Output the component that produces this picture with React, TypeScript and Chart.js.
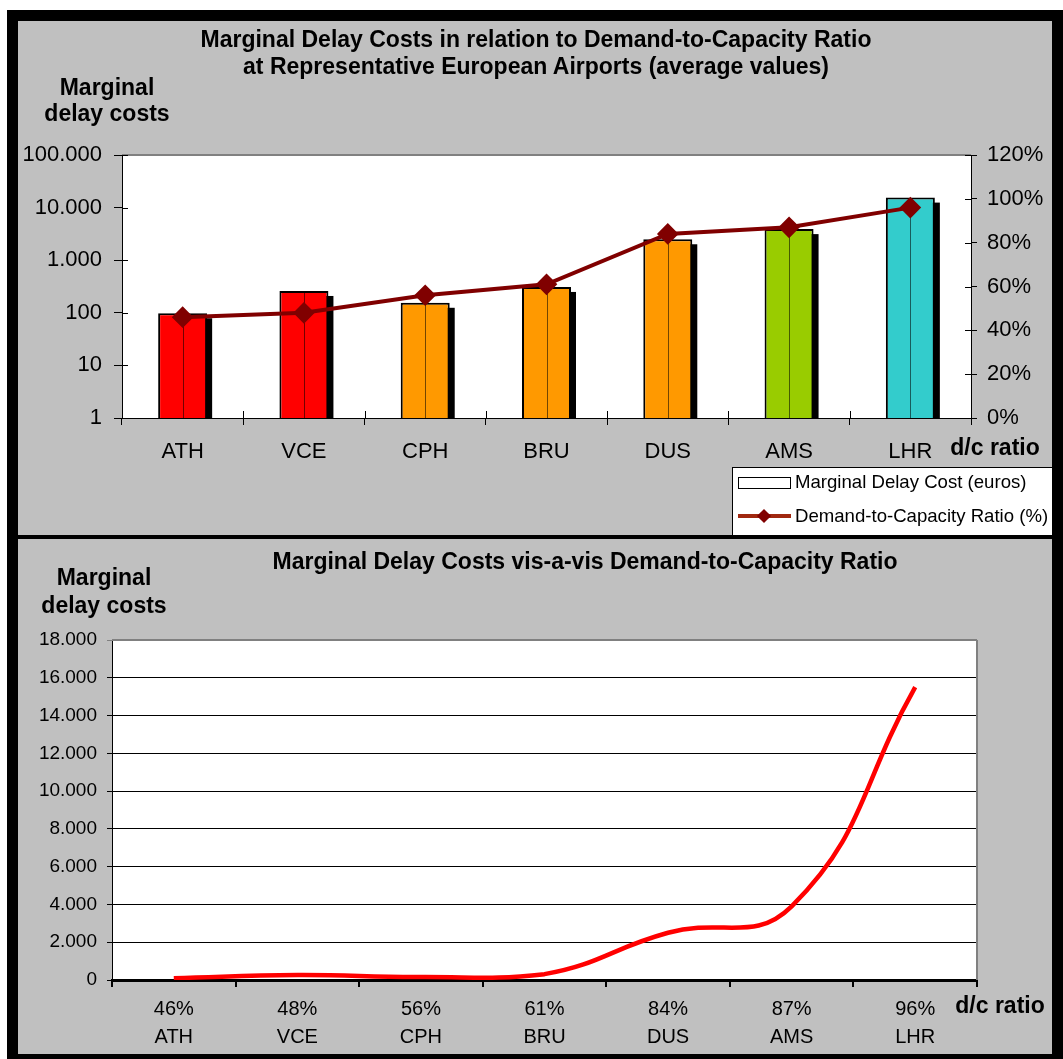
import React, { useEffect, useRef } from "react";
import { Chart, registerables } from "chart.js";
Chart.register(...registerables);

// ---------- data ----------
const airports = ["ATH", "VCE", "CPH", "BRU", "DUS", "AMS", "LHR"];
const delayCosts = [98, 260, 155, 310, 2500, 3900, 15500];
const dcRatios = [46, 48, 56, 61, 84, 87, 96];
const barColors = ["#FF0000", "#FF0000", "#FF9900", "#FF9900", "#FF9900", "#99CC00", "#33CCCC"];
const logTickValues = [1, 10, 100, 1000, 10000, 100000];
const percentTickValues = [0, 20, 40, 60, 80, 100, 120];
const linearTickValues = [0, 2000, 4000, 6000, 8000, 10000, 12000, 14000, 16000, 18000];

const FONT = "'Liberation Sans', Arial, Helvetica, sans-serif";
const fmtThousands = (v: number) => String(v).replace(/\B(?=(\d{3})+(?!\d))/g, ".");

// ---------- plugins ----------
const plotFrame = {
  id: "plotFrame",
  beforeDraw(chart: any) {
    const { ctx, chartArea: a } = chart;
    ctx.save();
    ctx.fillStyle = "#FFFFFF";
    ctx.fillRect(a.left, a.top, a.right - a.left, a.bottom - a.top);
    ctx.restore();
  },
  beforeDatasetsDraw(chart: any, _args: any, opts: any) {
    const { ctx, chartArea: a } = chart;
    ctx.save();
    ctx.strokeStyle = "#808080";
    ctx.lineWidth = 2;
    ctx.beginPath();
    ctx.moveTo(a.left, a.top);
    ctx.lineTo(a.right, a.top);
    if (opts && opts.right) {
      ctx.moveTo(a.right, a.top);
      ctx.lineTo(a.right, a.bottom);
    }
    ctx.stroke();
    ctx.restore();
  },
};

const barDecor = {
  id: "barDecor",
  beforeDatasetDraw(chart: any, args: any) {
    const meta = args.meta;
    if (meta.type !== "bar") return;
    const { ctx, chartArea: a } = chart;
    ctx.save();
    ctx.beginPath();
    ctx.rect(a.left, a.top, a.right - a.left, a.bottom - a.top);
    ctx.clip();
    ctx.fillStyle = "#000000";
    meta.data.forEach((el: any) => {
      const p = el.getProps(["x", "y", "base", "width"], true);
      ctx.fillRect(p.x - p.width / 2 + 5, p.y + 5, p.width, p.base - p.y);
    });
    ctx.restore();
  },
  afterDatasetDraw(chart: any, args: any) {
    const meta = args.meta;
    if (meta.type !== "bar") return;
    const { ctx } = chart;
    ctx.save();
    ctx.strokeStyle = "rgba(0,0,0,0.55)";
    ctx.lineWidth = 1;
    ctx.beginPath();
    meta.data.forEach((el: any) => {
      const p = el.getProps(["x", "y", "base"], true);
      const px = Math.round(p.x) + 0.5;
      ctx.moveTo(px, p.y + 1);
      ctx.lineTo(px, p.base);
    });
    ctx.stroke();
    ctx.restore();
  },
};

const crossTicks = {
  id: "crossTicks",
  afterDraw(chart: any) {
    const { ctx, chartArea: a, scales } = chart;
    ctx.save();
    ctx.strokeStyle = "#000000";
    ctx.lineWidth = 1;
    ctx.beginPath();
    const xs = scales.x;
    const n = chart.data.labels.length;
    const step = xs.getPixelForValue(1) - xs.getPixelForValue(0);
    for (let i = 1; i < n; i++) {
      const px = Math.round(xs.getPixelForValue(i) - step / 2) + 0.5;
      ctx.moveTo(px, a.bottom);
      ctx.lineTo(px, a.bottom - 7);
    }
    scales.y.ticks.forEach((t: any) => {
      const py = Math.round(scales.y.getPixelForValue(t.value)) + 0.5;
      ctx.moveTo(a.left, py);
      ctx.lineTo(a.left + 6, py);
    });
    scales.y1.ticks.forEach((t: any) => {
      const py = Math.round(scales.y1.getPixelForValue(t.value)) + 0.5;
      ctx.moveTo(a.right - 6, py);
      ctx.lineTo(a.right, py);
    });
    ctx.stroke();
    ctx.restore();
  },
};

// ---------- component ----------
export default function App() {
  const topRef = useRef<HTMLCanvasElement>(null);
  const botRef = useRef<HTMLCanvasElement>(null);

  useEffect(() => {
    document.body.style.margin = "0";
    const top = new Chart(topRef.current as HTMLCanvasElement, {
      data: {
        labels: airports,
        datasets: [
          {
            type: "line",
            label: "Demand-to-Capacity Ratio (%)",
            data: dcRatios,
            yAxisID: "y1",
            borderColor: "#800000",
            backgroundColor: "#800000",
            borderWidth: 4,
            pointStyle: "rectRot",
            pointRadius: 8,
            pointBackgroundColor: "#800000",
            pointBorderColor: "#800000",
            tension: 0,
            order: 0,
          } as any,
          {
            type: "bar",
            label: "Marginal Delay Cost (euros)",
            data: delayCosts,
            yAxisID: "y",
            backgroundColor: barColors,
            borderColor: "#000000",
            borderWidth: 2,
            categoryPercentage: 1,
            barPercentage: 0.404,
            order: 1,
          } as any,
        ],
      },
      options: {
        animation: false,
        responsive: false,
        devicePixelRatio: 1,
        layout: { padding: { top: 134, left: 0, right: 0, bottom: 0 } },
        plugins: {
          legend: { display: false },
          title: { display: false },
          tooltip: { enabled: false },
          plotFrame: { right: false },
        } as any,
        scales: {
          x: {
            type: "category",
            offset: true,
            grid: { offset: true, drawOnChartArea: false, tickLength: 7, color: "#000000" },
            border: { color: "#000000", width: 1 },
            ticks: { font: { family: FONT, size: 22 }, color: "#000000", padding: 14, maxRotation: 0 },
            afterFit: (s: any) => { s.height = 117; },
          },
          y: {
            type: "logarithmic",
            position: "left",
            min: 1,
            max: 100000,
            afterBuildTicks: (s: any) => { s.ticks = logTickValues.map((v) => ({ value: v })); },
            ticks: { callback: (v: any) => fmtThousands(Number(v)), font: { family: FONT, size: 22 }, color: "#000000", padding: 12 },
            grid: { drawOnChartArea: false, tickLength: 8, color: "#000000" },
            border: { color: "#000000", width: 1 },
            afterFit: (s: any) => { s.width = 104; },
          },
          y1: {
            type: "linear",
            position: "right",
            min: 0,
            max: 120,
            afterBuildTicks: (s: any) => { s.ticks = percentTickValues.map((v) => ({ value: v })); },
            ticks: { callback: (v: any) => v + "%", font: { family: FONT, size: 22 }, color: "#000000", padding: 10 },
            grid: { drawOnChartArea: false, tickLength: 6, color: "#000000" },
            border: { color: "#000000", width: 1 },
            afterFit: (s: any) => { s.width = 81; },
          },
        } as any,
      },
      plugins: [plotFrame, barDecor, crossTicks],
    } as any);

    const bottom = new Chart(botRef.current as HTMLCanvasElement, {
      type: "line",
      data: {
        labels: airports.map((a, i) => [dcRatios[i] + "%", a]),
        datasets: [
          {
            label: "Marginal delay costs",
            data: delayCosts,
            borderColor: "#FF0000",
            backgroundColor: "#FF0000",
            borderWidth: 4.5,
            pointRadius: 0,
            tension: 0.45,
            fill: false,
          },
        ],
      },
      options: {
        animation: false,
        responsive: false,
        devicePixelRatio: 1,
        layout: { padding: { top: 101, left: 0, right: 75, bottom: 0 } },
        plugins: {
          legend: { display: false },
          title: { display: false },
          tooltip: { enabled: false },
          plotFrame: { right: true },
        } as any,
        scales: {
          x: {
            type: "category",
            offset: true,
            grid: { offset: true, drawOnChartArea: false, tickLength: 7, color: "#000000", lineWidth: 2 },
            border: { color: "#000000", width: 3 },
            ticks: { font: { family: FONT, size: 20, lineHeight: 1.4 }, color: "#000000", padding: 8, maxRotation: 0 },
            afterFit: (s: any) => { s.height = 74; },
          },
          y: {
            type: "linear",
            min: 0,
            max: 18000,
            afterBuildTicks: (s: any) => { s.ticks = linearTickValues.map((v) => ({ value: v })); },
            ticks: { callback: (v: any) => fmtThousands(Number(v)), font: { family: FONT, size: 19 }, color: "#000000", padding: 10 },
            grid: {
              color: (c: any) => (c.tick && c.tick.value === 18000 ? "#808080" : "#000000"),
              lineWidth: 1,
              tickLength: 5,
            },
            border: { color: "#000000", width: 1 },
            afterFit: (s: any) => { s.width = 94; },
          },
        } as any,
      },
      plugins: [plotFrame],
    } as any);

    return () => {
      top.destroy();
      bottom.destroy();
    };
  }, []);

  const bold: React.CSSProperties = { position: "absolute", fontFamily: FONT, fontWeight: "bold", fontSize: 23, color: "#000", textAlign: "center", whiteSpace: "nowrap" };

  return (
    <div style={{ position: "absolute", left: 0, top: 0, width: 1063, height: 1059, background: "#FFFFFF", overflow: "hidden", fontFamily: FONT }}>
      <div style={{ position: "absolute", left: 7, top: 10, width: 1056, height: 1049, background: "#000000" }} />
      <div style={{ position: "absolute", left: 18, top: 21, width: 1034, height: 514, background: "#C0C0C0" }}>
        <canvas ref={topRef} width={1034} height={514} style={{ position: "absolute", left: 0, top: 0, width: 1034, height: 514 }} />
      </div>
      <div style={{ position: "absolute", left: 18, top: 539, width: 1034, height: 515, background: "#C0C0C0" }}>
        <canvas ref={botRef} width={1034} height={515} style={{ position: "absolute", left: 0, top: 0, width: 1034, height: 515 }} />
      </div>

      {/* top panel texts */}
      <div style={{ ...bold, left: 186, width: 700, top: 26, lineHeight: "27px" }}>
        Marginal Delay Costs in relation to Demand-to-Capacity Ratio
        <br />
        at Representative European Airports (average values)
      </div>
      <div style={{ ...bold, left: 7, width: 200, top: 74, lineHeight: "26px" }}>
        Marginal
        <br />
        delay costs
      </div>
      <div style={{ ...bold, left: 945, width: 100, top: 434, lineHeight: "26px" }}>d/c ratio</div>

      {/* legend */}
      <div style={{ position: "absolute", left: 732, top: 467, width: 319, height: 67, background: "#FFFFFF", border: "1px solid #000", fontFamily: FONT, fontSize: 18.6, color: "#000" }}>
        <div style={{ position: "absolute", left: 5, top: 9, width: 51, height: 10, border: "1px solid #000", background: "#FFF" }} />
        <div style={{ position: "absolute", left: 62, top: 3, lineHeight: "22px", whiteSpace: "nowrap" }}>Marginal Delay Cost (euros)</div>
        <div style={{ position: "absolute", left: 5, top: 46, width: 53, height: 4, background: "#A02810" }} />
        <div style={{ position: "absolute", left: 26, top: 43, width: 10, height: 10, background: "#800000", transform: "rotate(45deg)" }} />
        <div style={{ position: "absolute", left: 62, top: 37, lineHeight: "22px", whiteSpace: "nowrap" }}>Demand-to-Capacity Ratio (%)</div>
      </div>

      {/* bottom panel texts */}
      <div style={{ ...bold, left: 235, width: 700, top: 547, lineHeight: "28px" }}>
        Marginal Delay Costs vis-a-vis Demand-to-Capacity Ratio
      </div>
      <div style={{ ...bold, left: 4, width: 200, top: 563, lineHeight: "28px" }}>
        Marginal
        <br />
        delay costs
      </div>
      <div style={{ ...bold, left: 950, width: 100, top: 992, lineHeight: "26px" }}>d/c ratio</div>
    </div>
  );
}
